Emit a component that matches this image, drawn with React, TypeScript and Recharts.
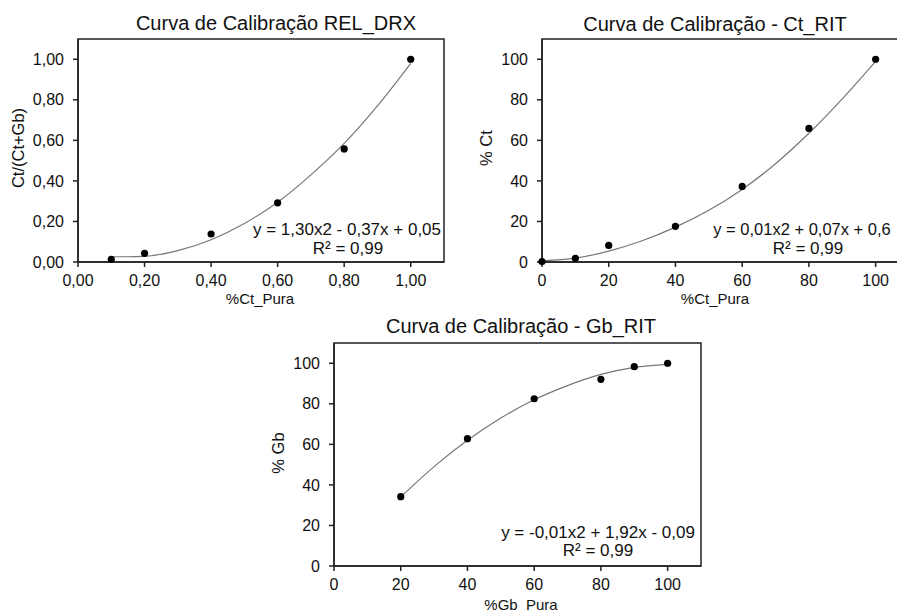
import {
  ComposedChart,
  Scatter,
  Line,
  XAxis,
  YAxis,
  ReferenceArea,
} from "recharts"

// points
const drxX = [0.1, 0.2, 0.4, 0.6, 0.8, 1.0]
const drxY = [0.013, 0.043, 0.138, 0.292, 0.558, 1.0]
const drxFitX = [0.1, 0.15, 0.2, 0.3, 0.4, 0.5, 0.6, 0.7, 0.8, 0.9, 1.0]
const drxFitY = [0.026, 0.026, 0.028, 0.056, 0.11, 0.19, 0.295, 0.43, 0.585, 0.77, 0.98]

const ctX = [0, 10, 20, 40, 60, 80, 100]
const ctY = [0.2, 1.8, 8.2, 17.6, 37.3, 65.9, 100]
const ctFitX = [0, 10, 20, 30, 40, 50, 60, 70, 80, 90, 100]
const ctFitY = [0.6, 1.9, 5.4, 10.5, 17.2, 25.5, 35.8, 48.5, 63.5, 80.5, 99]

const gbX = [20, 40, 60, 80, 90, 100]
const gbY = [34.2, 62.8, 82.5, 92.1, 98.3, 100]
const gbFitX = [20, 30, 40, 50, 60, 70, 80, 90, 100]
const gbFitY = [34, 49, 62, 73, 82, 89, 94.5, 98, 99.5]

const ticksUnit = [0, 0.2, 0.4, 0.6, 0.8, 1.0]
const ticksPct = [0, 20, 40, 60, 80, 100]

const FONT = '"Liberation Sans", Arial, sans-serif'
const AXIS = "#222"

const zip = (xs: number[], ys: number[]) => xs.map((x, i) => ({ x, y: ys[i] }))

const comma = (v: number) => v.toFixed(2).replace(".", ",")

interface PanelProps {
  left: number
  top: number
  width: number
  height: number
  marginTop: number
  marginRight: number
  yAxisWidth: number
  xAxisHeight: number
  points: { x: number; y: number }[]
  fit: { x: number; y: number }[]
  xTicks: number[]
  yTicks: number[]
  xMax: number
  yMax: number
  fmt?: (v: number) => string
}

function Panel(p: PanelProps) {
  const tick = { fontSize: 16, fill: "#111", fontFamily: FONT }
  return (
    <div style={{ position: "absolute", left: p.left, top: p.top }}>
      <ComposedChart
        width={p.width}
        height={p.height}
        margin={{ top: p.marginTop, right: p.marginRight, bottom: 0, left: 0 }}
      >
        <XAxis
          dataKey="x"
          type="number"
          domain={[0, p.xMax]}
          ticks={p.xTicks}
          tickFormatter={p.fmt}
          height={p.xAxisHeight}
          tick={tick}
          tickSize={5}
          tickMargin={8}
          stroke={AXIS}
          strokeWidth={1.5}
        />
        <YAxis
          dataKey="y"
          type="number"
          domain={[0, p.yMax]}
          ticks={p.yTicks}
          tickFormatter={p.fmt}
          width={p.yAxisWidth}
          tick={tick}
          tickSize={5}
          tickMargin={9}
          stroke={AXIS}
          strokeWidth={1.5}
        />
        <ReferenceArea
          x1={0}
          x2={p.xMax}
          y1={0}
          y2={p.yMax}
          fill="none"
          stroke={AXIS}
          strokeWidth={1.5}
          fillOpacity={0}
        />
        <Line
          data={p.fit}
          dataKey="y"
          type="monotone"
          stroke="#777"
          strokeWidth={1.2}
          dot={false}
          isAnimationActive={false}
        />
        <Scatter
          data={p.points}
          dataKey="y"
          fill="#000"
          shape={(s: any) => <circle cx={s.cx} cy={s.cy} r={3.6} fill="#000" />}
          isAnimationActive={false}
        />
      </ComposedChart>
    </div>
  )
}

function Txt({
  x,
  y,
  size,
  children,
  rotate,
}: {
  x: number
  y: number
  size: number
  children: React.ReactNode
  rotate?: boolean
}) {
  return (
    <div
      style={{
        position: "absolute",
        left: x,
        top: y,
        transform: `translate(-50%, -50%)${rotate ? " rotate(-90deg)" : ""}`,
        whiteSpace: "nowrap",
        fontSize: size,
        fontFamily: FONT,
        color: "#111",
        lineHeight: 1,
      }}
    >
      {children}
    </div>
  )
}

export default function App() {
  return (
    <div
      style={{
        position: "absolute",
        left: 0,
        top: 0,
        width: 897,
        height: 612,
        overflow: "hidden",
        background: "#fff",
      }}
    >
      <Panel
        left={0}
        top={0}
        width={450}
        height={300}
        marginTop={39}
        marginRight={6}
        yAxisWidth={78}
        xAxisHeight={38}
        points={zip(drxX, drxY)}
        fit={zip(drxFitX, drxFitY)}
        xTicks={ticksUnit}
        yTicks={ticksUnit}
        xMax={1.1}
        yMax={1.1}
        fmt={comma}
      />
      <Panel
        left={450}
        top={0}
        width={470}
        height={300}
        marginTop={39}
        marginRight={11}
        yAxisWidth={92}
        xAxisHeight={38}
        points={zip(ctX, ctY)}
        fit={zip(ctFitX, ctFitY)}
        xTicks={ticksPct}
        yTicks={ticksPct}
        xMax={110}
        yMax={110}
      />
      <Panel
        left={250}
        top={300}
        width={460}
        height={312}
        marginTop={43}
        marginRight={9}
        yAxisWidth={84}
        xAxisHeight={46}
        points={zip(gbX, gbY)}
        fit={zip(gbFitX, gbFitY)}
        xTicks={ticksPct}
        yTicks={ticksPct}
        xMax={110}
        yMax={110}
      />

      <Txt x={276} y={23} size={20}>Curva de Calibração REL_DRX</Txt>
      <Txt x={715} y={24} size={20}>Curva de Calibração - Ct_RIT</Txt>
      <Txt x={521} y={326} size={20}>Curva de Calibração - Gb_RIT</Txt>

      <Txt x={18} y={148} size={16.5} rotate>Ct/(Ct+Gb)</Txt>
      <Txt x={486} y={148} size={16.5} rotate>% Ct</Txt>
      <Txt x={278} y={453} size={16.5} rotate>% Gb</Txt>

      <Txt x={260} y={298} size={15}>%Ct_Pura</Txt>
      <Txt x={715} y={298} size={15}>%Ct_Pura</Txt>
      <Txt x={521} y={604} size={15}>%Gb&nbsp;&nbsp;Pura</Txt>

      <Txt x={347} y={229} size={17}>y = 1,30x2 - 0,37x + 0,05</Txt>
      <Txt x={348} y={248} size={17}>R² = 0,99</Txt>
      <Txt x={802} y={229} size={16.5}>y = 0,01x2 + 0,07x + 0,6</Txt>
      <Txt x={808} y={248} size={17}>R² = 0,99</Txt>
      <Txt x={598} y={532} size={17}>y = -0,01x2 + 1,92x - 0,09</Txt>
      <Txt x={598} y={550} size={17}>R² = 0,99</Txt>
    </div>
  )
}
